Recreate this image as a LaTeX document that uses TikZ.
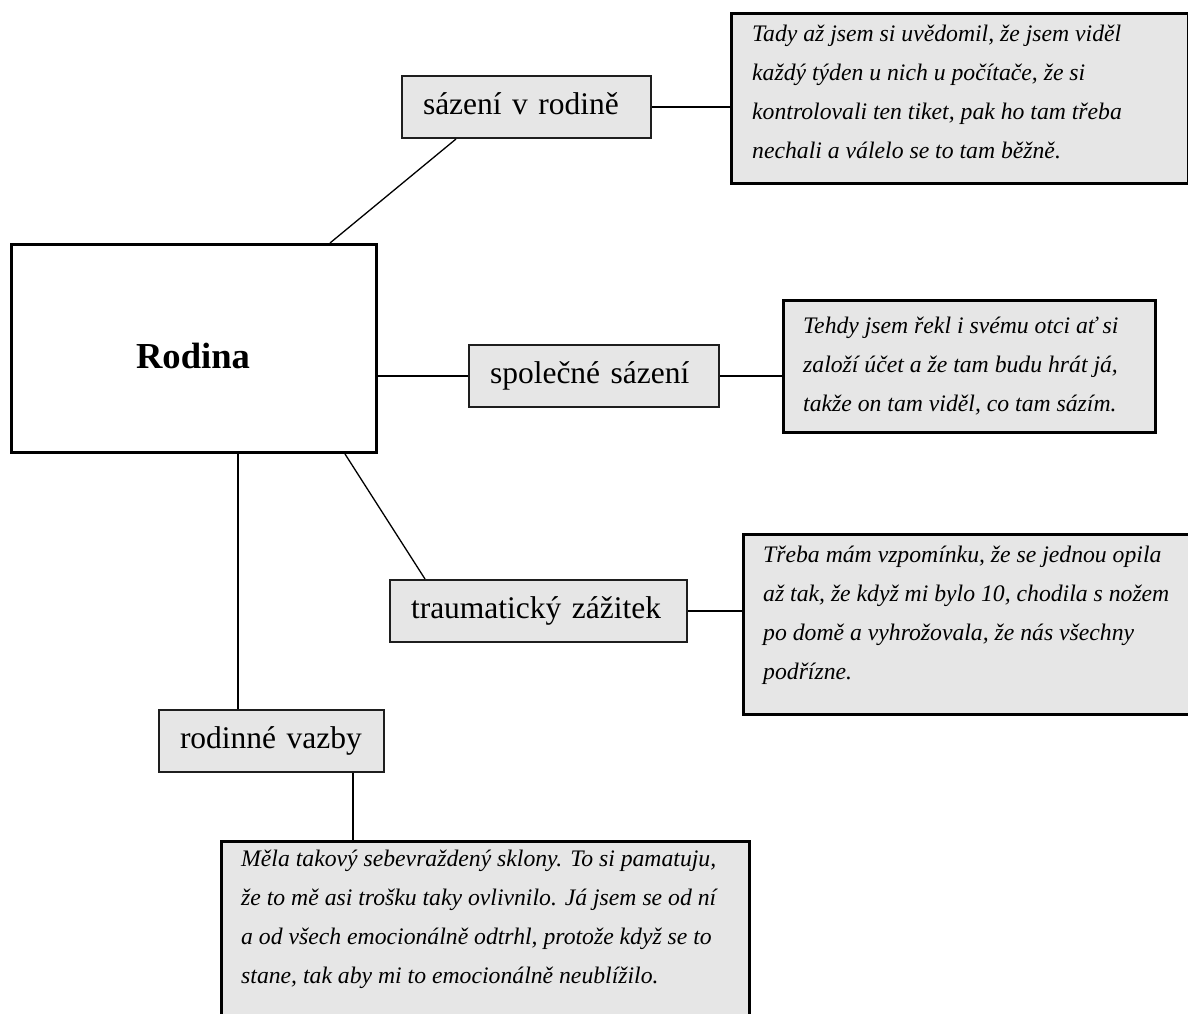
\documentclass[tikz,border=0pt]{standalone}
\usepackage{fontspec}
\setmainfont{Liberation Serif}
\definecolor{boxfill}{RGB}{230,230,230}
\definecolor{lblborder}{RGB}{30,30,30}
\tikzset{
  x=1pt, y=-1pt,
  conn/.style={draw=black, line width=1.3pt},
  mainbox/.style={draw=black, line width=3pt, fill=white, rectangle, anchor=north west, inner sep=0pt},
  lbl/.style={draw=lblborder, line width=2pt, fill=boxfill, rectangle, anchor=north west,
    inner xsep=21pt, inner ysep=0pt, align=left, minimum height=62pt,
    font=\fontsize{31.5}{38}\selectfont},
  qbox/.style={draw=black, line width=3pt, fill=boxfill, rectangle, anchor=north west, inner sep=0pt},
  qtext/.style={anchor=north west, inner sep=0pt, align=left,
    font=\fontsize{23.7}{39}\selectfont\itshape},
}
\newcommand{\qstrut}{\rule{0pt}{20pt}}
\begin{document}
\begin{tikzpicture}
\useasboundingbox (0,0) rectangle (1188,1014);
% main box
\node[mainbox, minimum width=365pt, minimum height=208pt] (rod) at (10,243) {};
\node[font=\fontsize{36.6}{44}\selectfont\bfseries, inner sep=0pt] (rodt) at (193,356) {Rodina};
% label boxes
\node[lbl, text width=207pt] (saz) at (401,75) {\strut sázení v rodině};
\node[lbl, text width=208pt] (spol) at (468,344) {\strut společné sázení};
\node[lbl, text width=255pt] (trau) at (389,579) {\strut traumatický zážitek};
\node[lbl, text width=183pt] (rodv) at (158,709) {\strut rodinné vazby};
% quote boxes
\node[qbox, minimum width=457pt, minimum height=170pt] (q1) at (730,12) {};
\node[qtext] (q1t) at (752,21) {\qstrut Tady až jsem si uvědomil, že jsem viděl\\
každý týden u nich u počítače, že si\\
kontrolovali ten tiket, pak ho tam třeba\\
nechali a válelo se to tam běžně.};
\node[qbox, minimum width=372pt, minimum height=132pt] (q2) at (782,299) {};
\node[qtext] (q2t) at (803,313) {\qstrut Tehdy jsem řekl i svému otci ať si\\
založí účet a že tam budu hrát já,\\
takže on tam viděl, co tam sázím.};
\node[qbox, minimum width=452pt, minimum height=180pt] (q3) at (742,533) {};
\node[qtext] (q3t) at (763,542) {\qstrut Třeba mám vzpomínku, že se jednou opila\\
až tak, že když mi bylo 10, chodila s nožem\\
po domě a vyhrožovala, že nás všechny\\
podřízne.};
\node[qbox, minimum width=528pt, minimum height=185pt] (q4) at (220,840) {};
\node[qtext] (q4t) at (241,846) {\qstrut Měla takový sebevraždený sklony. To si pamatuju,\\
že to mě asi trošku taky ovlivnilo. Já jsem se od ní\\
a od všech emocionálně odtrhl, protože když se to\\
stane, tak aby mi to emocionálně neublížilo.};
% connectors
\draw[conn] (330,0 |- rod.north) -- (456,0 |- saz.south);
\draw[conn] (saz.east) -- (q1.west |- saz.east);
\draw[conn] (rod.east |- spol.west) -- (spol.west);
\draw[conn] (spol.east) -- (q2.west |- spol.east);
\draw[conn] (345,0 |- rod.south) -- (425,0 |- trau.north);
\draw[conn] (trau.east) -- (q3.west |- trau.east);
\draw[conn] (238,0 |- rod.south) -- (238,0 |- rodv.north);
\draw[conn] (353,0 |- rodv.south) -- (353,0 |- q4.north);
\end{tikzpicture}
\end{document}
